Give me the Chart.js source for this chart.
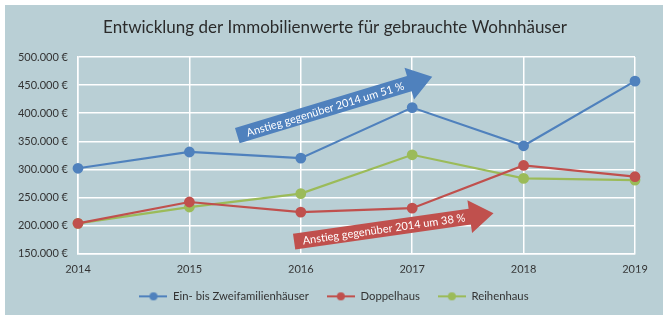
<!DOCTYPE html>
<html>
<head>
<meta charset="utf-8">
<script src="https://cdn.jsdelivr.net/npm/chart.js@4.4.1/dist/chart.umd.min.js"></script>
<style>
  html, body { margin:0; padding:0; background:#fff; }
  #frame { position:absolute; left:5px; top:5px; width:658px; height:310px; background:#b9cfd5; }
</style>
</head>
<body>
<div id="frame"><canvas id="c" width="658" height="310"></canvas></div>
<script>
// ---- data ----
var years = ['2014', '2015', '2016', '2017', '2018', '2019'];
var einZwei = [302000, 331000, 320000, 410000, 342000, 457000];
var doppel  = [204000, 242000, 224000, 231000, 307000, 287000];
var reihen  = [204000, 233000, 257000, 326000, 284000, 281000];
var seriesNames = ['Ein- bis Zweifamilienhäuser', 'Doppelhaus', 'Reihenhaus'];
var yMin = 150000, yMax = 500000, yStep = 50000;
var titleText = 'Entwicklung der Immobilienwerte für gebrauchte Wohnhäuser';

// arrow annotations: [category index, value]
var arrowText = ['Anstieg gegenüber 2014 um 51 %', 'Anstieg gegenüber 2014 um 38 %'];
var arrowFrom = [[1.43, 360000], [1.94, 171500]];
var arrowTo   = [[3.18, 465000], [3.73, 222000]];

var BLUE = '#4f81bd', RED = '#c0504d', GREEN = '#9bbb59';
var FONT = 'Lato, "Open Sans", sans-serif';

function legendMark(color) {
  var cv = document.createElement('canvas');
  cv.width = 28; cv.height = 10;
  var g = cv.getContext('2d');
  g.strokeStyle = color; g.lineWidth = 2;
  g.beginPath(); g.moveTo(0, 5); g.lineTo(28, 5); g.stroke();
  g.fillStyle = color;
  g.beginPath(); g.arc(14, 5, 4, 0, Math.PI * 2); g.fill();
  return cv;
}

function fmtEuro(v) {
  return v.toLocaleString('de-DE') + ' €';
}

// title centred on the whole frame
var titlePlugin = {
  id: 'frameTitle',
  afterDraw: function(chart) {
    var ctx = chart.ctx;
    ctx.save();
    ctx.fillStyle = '#2b2b2b';
    ctx.font = '17px ' + FONT;
    ctx.textAlign = 'center'; ctx.textBaseline = 'middle';
    ctx.fillText(titleText, chart.width / 2 + 1, 23);
    ctx.restore();
  }
};

var arrowPlugin = {
  id: 'arrows',
  afterDatasetsDraw: function(chart) {
    var ctx = chart.ctx, xs = chart.scales.x, ys = chart.scales.y;
    var colors = [BLUE, RED];
    for (var i = 0; i < arrowText.length; i++) {
      var x0 = xs.getPixelForValue(arrowFrom[i][0]), y0 = ys.getPixelForValue(arrowFrom[i][1]);
      var x1 = xs.getPixelForValue(arrowTo[i][0]), y1 = ys.getPixelForValue(arrowTo[i][1]);
      var len = Math.hypot(x1 - x0, y1 - y0), ang = Math.atan2(y1 - y0, x1 - x0);
      var body = 16, head = 33, headLen = 24;
      ctx.save();
      ctx.translate(x0, y0); ctx.rotate(ang);
      ctx.fillStyle = colors[i];
      ctx.beginPath();
      ctx.moveTo(0, -body / 2);
      ctx.lineTo(len - headLen, -body / 2);
      ctx.lineTo(len - headLen, -head / 2);
      ctx.lineTo(len, 0);
      ctx.lineTo(len - headLen, head / 2);
      ctx.lineTo(len - headLen, body / 2);
      ctx.lineTo(0, body / 2);
      ctx.closePath();
      ctx.fill();
      ctx.fillStyle = '#fff';
      ctx.font = '11px ' + FONT;
      ctx.textAlign = 'center'; ctx.textBaseline = 'middle';
      ctx.fillText(arrowText[i], (len - headLen) / 2 + 2, 0.5);
      ctx.restore();
    }
  }
};

function ds(label, data, color) {
  return { label: label, data: data, borderColor: color, backgroundColor: color,
    borderWidth: 2.2, pointRadius: 4.3, pointHoverRadius: 4.3, pointBackgroundColor: color,
    pointBorderColor: color, tension: 0 };
}

new Chart(document.getElementById('c'), {
  type: 'line',
  data: { labels: years, datasets: [
    ds(seriesNames[0], einZwei, BLUE),
    ds(seriesNames[1], doppel, RED),
    ds(seriesNames[2], reihen, GREEN)
  ]},
  options: {
    responsive: false, animation: false,
    layout: { padding: { left: 5, right: 5, top: 52, bottom: 3 } },
    plugins: {
      title: { display: false },
      legend: { position: 'bottom',
        labels: { usePointStyle: true, pointStyleWidth: 28, color: '#333', padding: 18,
          font: { family: FONT, size: 11.3 },
          generateLabels: function(chart) {
            return chart.data.datasets.map(function(d, i) {
              return { text: d.label, pointStyle: legendMark(d.borderColor), fillStyle: d.borderColor,
                strokeStyle: d.borderColor, lineWidth: 0, datasetIndex: i, fontColor: '#333' };
            });
          } } },
      tooltip: { enabled: false }
    },
    scales: {
      x: { offset: false,
        afterFit: function(scale) { scale.height = 19; scale.paddingRight = 28; },
        grid: { color: '#ffffff', lineWidth: 1.5, drawTicks: false },
        border: { color: '#ffffff', width: 1.5 },
        ticks: { color: '#333', padding: 9, font: { family: FONT, size: 11 }, maxRotation: 0 } },
      y: { min: yMin, max: yMax,
        afterFit: function(scale) { scale.width = 68; },
        grid: { color: '#ffffff', lineWidth: 1.5, drawTicks: false },
        border: { color: '#ffffff', width: 1.5 },
        ticks: { stepSize: yStep, color: '#333', padding: 10, font: { family: FONT, size: 11 },
          callback: function(v) { return fmtEuro(v); } } }
    }
  },
  plugins: [arrowPlugin, titlePlugin]
});
</script>
</body>
</html>
